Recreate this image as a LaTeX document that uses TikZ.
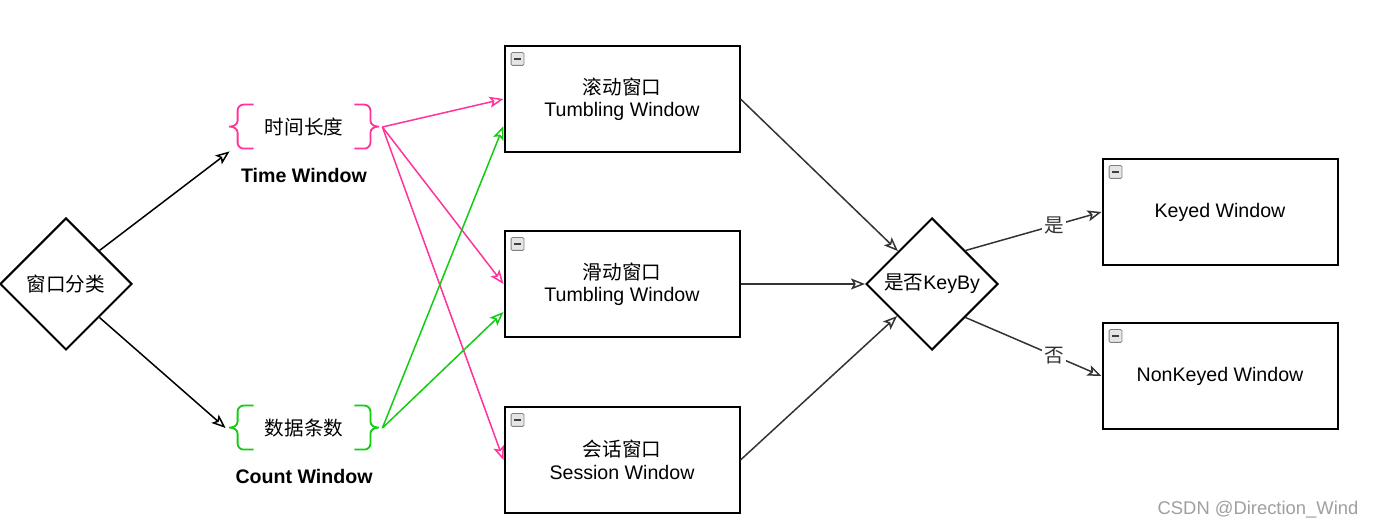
\documentclass[tikz,border=0pt]{standalone}
\usepackage{fontspec}
\setmainfont{Liberation Sans}
\newfontfamily\cjk{Noto Sans CJK SC}
\usetikzlibrary{arrows.meta,shapes.geometric,positioning}
\definecolor{linkpink}{HTML}{FF3399}
\definecolor{linkgreen}{HTML}{11CC11}
\definecolor{edgegray}{HTML}{333333}

\tikzset{
  txt/.style={font=\fontsize{9.8}{11.2}\selectfont},
  win/.style={txt, draw, line width=1pt, minimum width=117.5pt, minimum height=53pt, align=center, fill=white},
  choice/.style={txt, draw, diamond, line width=1pt, minimum size=66pt, inner sep=0pt, fill=white},
  group/.style={txt, minimum width=74pt, minimum height=22pt, inner sep=0pt},
  groupname/.style={font=\bfseries\fontsize{9.8}{12}\selectfont},
  bracket/.style={line width=0.9pt, line join=round},
  flow/.style={-{Stealth[open,length=7pt,width=5.5pt,inset=1.5pt]}, line width=0.75pt, edgegray},
  tlink/.style={flow, linkpink},
  clink/.style={flow, linkgreen},
  minusicon/.style={draw=gray, fill=gray!20, rounded corners=0.6pt, minimum size=6.4pt, inner sep=0pt,
    path picture={\draw[black!75, line width=0.7pt]
      ([xshift=1.4pt]path picture bounding box.west) -- ([xshift=-1.4pt]path picture bounding box.east);}}
}

% curly brackets round a group node
\newcommand\bracepair[2]{%
  \draw[bracket, #2] ([xshift=12pt]#1.north west) -- ++(-5pt,0) to[out=180,in=90] ++(-3pt,-3pt)
    -- ++(0,-5pt) to[out=-90,in=0] ++(-4pt,-3pt) to[out=0,in=90] ++(4pt,-3pt)
    -- ++(0,-5pt) to[out=-90,in=180] ++(3pt,-3pt) -- ++(5pt,0);
  \draw[bracket, #2] ([xshift=-12pt]#1.north east) -- ++(5pt,0) to[out=0,in=90] ++(3pt,-3pt)
    -- ++(0,-5pt) to[out=-90,in=180] ++(4pt,-3pt) to[out=180,in=90] ++(-4pt,-3pt)
    -- ++(0,-5pt) to[out=-90,in=0] ++(-3pt,-3pt) -- ++(-5pt,0);
}

\begin{document}
\begin{tikzpicture}[x=0.5pt, y=-0.5pt]
  \useasboundingbox (0,0) rectangle (1373,529);

  % classification
  \node[choice] (kind) at (66,284) {{\cjk 窗口分类}};

  % the two groups
  \node[group] (time) at (304,127) {{\cjk 时间长度}};
  \node[group] (count) at (304,428) {{\cjk 数据条数}};
  \node[groupname, below=6pt of time] (timename) {Time Window};
  \node[groupname, below=6pt of count] (countname) {Count Window};
  \bracepair{time}{linkpink}
  \bracepair{count}{linkgreen}

  % window types
  \node[win] (tumble) at (622,99) {{\cjk 滚动窗口}\\Tumbling Window};
  \node[win] (slide) at (622,284) {{\cjk 滑动窗口}\\Tumbling Window};
  \node[win] (session) at (622,460) {{\cjk 会话窗口}\\Session Window};

  % keyed or not
  \node[choice] (keyby) at (932,284) {{\cjk 是否}KeyBy};
  \node[win] (keyed) at (1220,212) {Keyed Window};
  \node[win] (nonkeyed) at (1220,376) {NonKeyed Window};

  \foreach \b in {tumble,slide,session,keyed,nonkeyed}
    \node[minusicon] (minus-\b) at ([xshift=7pt,yshift=-7pt]\b.north west) {};

  \draw[flow, black] (kind.north east) -- ([yshift=-1pt]time.south west);
  \draw[flow, black] (kind.south east) -- ([xshift=-2pt]count.west);

  \draw[tlink] ([xshift=2pt]time.east) -- (tumble.west);
  \draw[tlink] ([xshift=2pt]time.east) -- (slide.west);
  \draw[tlink] ([xshift=2pt]time.east) -- (session.west);
  \draw[clink] ([xshift=2pt]count.east) -- ([yshift=-13.5pt]tumble.west);
  \draw[clink] ([xshift=2pt]count.east) -- ([yshift=-14pt]slide.west);

  \draw[flow] (tumble.east) -- (keyby);
  \draw[flow] (slide.east) -- (keyby.west);
  \draw[flow] (session.east) -- (keyby);
  \draw[flow] (keyby.north east) -- node[txt, pos=0.65, fill=white, inner sep=1pt] (yes) {\cjk 是} (keyed.west);
  \draw[flow] (keyby.south east) -- node[txt, pos=0.65, fill=white, inner sep=1pt] (no) {\cjk 否} (nonkeyed.west);

  \node[font=\fontsize{9.2}{11}\selectfont, text=gray!75] (mark) at (1258,510) {CSDN @Direction\_Wind};
\end{tikzpicture}
\end{document}
